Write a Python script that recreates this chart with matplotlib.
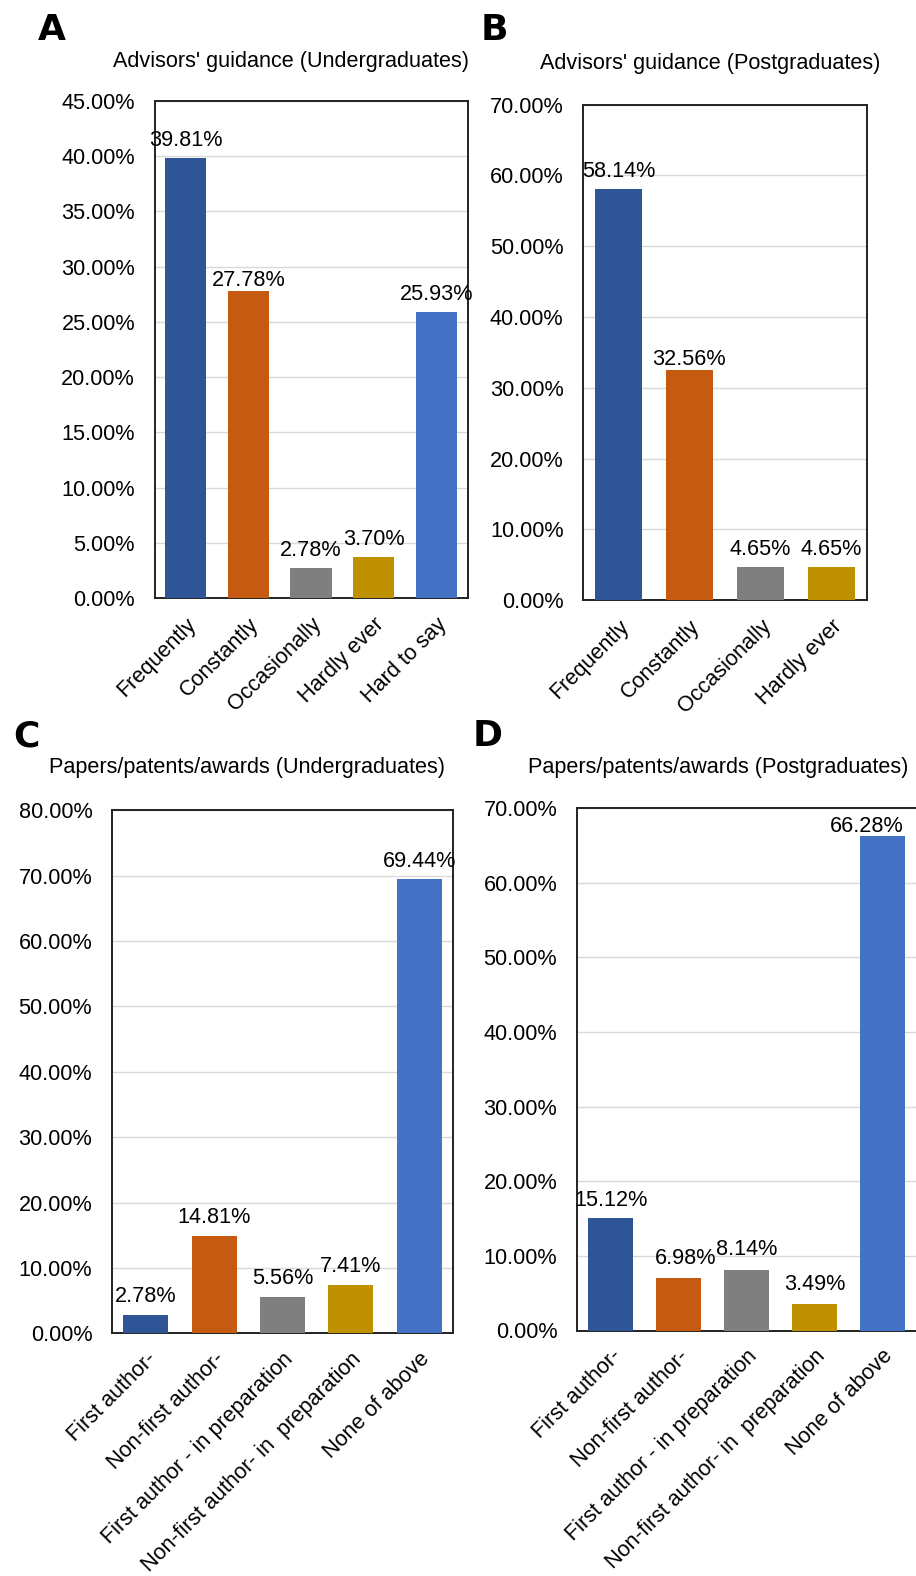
"""Bar charts of advisors' guidance and research output, undergrad vs postgrad
"""

import matplotlib
matplotlib.use('Agg')
import matplotlib.pyplot as plt
from matplotlib.ticker import FuncFormatter

# ---- data ----
guidance_cats_ug = ['Frequently', 'Constantly', 'Occasionally', 'Hardly ever', 'Hard to say']
guidance_ug = [39.81, 27.78, 2.78, 3.70, 25.93]

guidance_cats_pg = ['Frequently', 'Constantly', 'Occasionally', 'Hardly ever']
guidance_pg = [58.14, 32.56, 4.65, 4.65]

output_cats = ['First author-', 'Non-first author-', 'First author - in preparation',
               'Non-first author- in  preparation', 'None of above']
output_ug = [2.78, 14.81, 5.56, 7.41, 69.44]
output_pg = [15.12, 6.98, 8.14, 3.49, 66.28]

titles = ["Advisors' guidance (Undergraduates)", "Advisors' guidance (Postgraduates)",
          "Papers/patents/awards (Undergraduates)", "Papers/patents/awards (Postgraduates)"]
y_max = [45, 70, 80, 70]
y_step = [5, 10, 10, 10]

# ---- style ----
COLORS = ['#2F5597', '#C55A11', '#7F7F7F', '#BF9000', '#4472C4']
W, H, DPI = 916, 1576, 100
FS = 15.6
plt.rcParams['font.family'] = ['Liberation Sans', 'DejaVu Sans']

fig = plt.figure(figsize=(W / DPI, H / DPI), dpi=DPI)


def px_axes(left, right, top, bottom):
    return fig.add_axes([left / W, 1 - bottom / H, (right - left) / W, (bottom - top) / H])


def fig_text(x, y, s, **kw):
    fig.text(x / W, 1 - y / H, s, **kw)


def draw_panel(ax, cats, vals, ymax, step, label_offsets):
    x = range(len(cats))
    ax.bar(x, vals, width=0.66, color=COLORS[:len(cats)], zorder=3)
    ax.set_xlim(-0.5, len(cats) - 0.5)
    ax.set_ylim(0, ymax)
    ax.set_yticks(range(0, ymax + 1, step))
    ax.yaxis.set_major_formatter(FuncFormatter(lambda v, p: f'{v:.2f}%'))
    ax.grid(axis='y', color='#D9D9D9', lw=1, zorder=0)
    ax.set_axisbelow(True)
    ax.tick_params(axis='both', length=0, labelsize=FS)
    ax.tick_params(axis='y', pad=14)
    ax.tick_params(axis='x', pad=11)
    ax.set_xticks(list(x))
    ax.set_xticklabels(cats, rotation=45, ha='right', va='top', rotation_mode='anchor')
    for sp in ax.spines.values():
        sp.set_color('#222222')
        sp.set_linewidth(1.4)
    for i, v in enumerate(vals):
        ax.annotate(f'{v:.2f}%', (i, v), xytext=label_offsets[i],
                    textcoords='offset points', ha='center', va='bottom',
                    fontsize=FS, zorder=4, annotation_clip=False)


ax_a = px_axes(154.5, 467.7, 100.7, 598.3)
draw_panel(ax_a, guidance_cats_ug, guidance_ug, y_max[0], y_step[0],
           [(0, 5), (0, 0), (0, 5), (0, 5), (0, 5)])

ax_b = px_axes(583, 866.7, 104.6, 600.3)
draw_panel(ax_b, guidance_cats_pg, guidance_pg, y_max[1], y_step[1],
           [(0, 5), (0, 0), (0, 5), (0, 5)])

ax_c = px_axes(111.7, 453.3, 810.4, 1333.3)
draw_panel(ax_c, output_cats, output_ug, y_max[2], y_step[2],
           [(0, 6), (0, 6), (0, 6), (0, 6), (0, 5)])

ax_d = px_axes(576.7, 916.5, 808, 1330.5)
draw_panel(ax_d, output_cats, output_pg, y_max[3], y_step[3],
           [(0, 5), (5, 7), (0, 7), (0, 7), (-11, -1)])

# titles and panel letters
fig_text(291, 62, titles[0], ha='center', va='center', fontsize=FS)
fig_text(710, 64, titles[1], ha='center', va='center', fontsize=FS)
fig_text(247, 768, titles[2], ha='center', va='center', fontsize=FS)
fig_text(718, 768, titles[3], ha='center', va='center', fontsize=FS)

for letter, (lx, ly) in zip('ABCD', [(52, 30), (494, 30), (26, 736), (488, 736)]):
    fig_text(lx, ly, letter, ha='center', va='center', fontsize=26, fontweight='bold',
             family='DejaVu Sans')

fig.savefig('out.png', dpi=DPI)
